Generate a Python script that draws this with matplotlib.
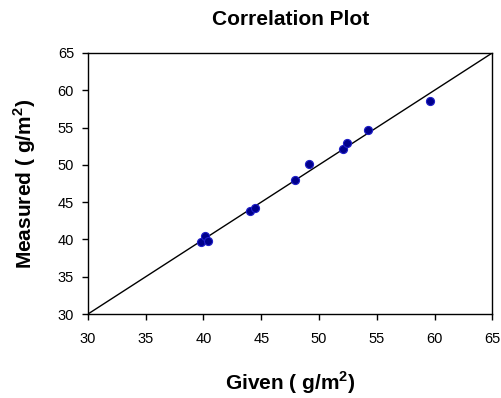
import numpy as np
import matplotlib
matplotlib.use("Agg")
import matplotlib.pyplot as plt

# === Data ===
given = [39.8, 40.1, 40.4, 44.0, 44.5, 47.9, 49.1, 52.1, 52.4, 54.2, 59.6]
measured = [39.6, 40.4, 39.8, 43.8, 44.2, 47.9, 50.1, 52.1, 52.9, 54.7, 58.6]
ticks = [30, 35, 40, 45, 50, 55, 60, 65]

plt.rcParams['font.family'] = ['Liberation Sans', 'DejaVu Sans']
plt.rcParams['mathtext.fontset'] = 'custom'
plt.rcParams['mathtext.rm'] = 'Liberation Sans'
plt.rcParams['mathtext.bf'] = 'Liberation Sans:bold'

fig = plt.figure(figsize=(5.01, 3.98), dpi=100)
ax = fig.add_axes([0.1756, 0.211, 0.807, 0.656])

# 1:1 line
ax.plot([30, 65], [30, 65], color='black', linewidth=1.0, zorder=2)
ax.scatter(given, measured, s=34, color='#00008c', edgecolors='#2020c8',
           linewidths=0.8, zorder=3)

ax.set_xlim(30, 65)
ax.set_ylim(30, 65)
ax.set_xticks(ticks)
ax.set_yticks(ticks)
ax.tick_params(axis='x', direction='out', length=4, width=1, labelsize=10.5, pad=9)
ax.tick_params(axis='y', direction='out', length=4, width=1, labelsize=10.5, pad=6)
for s in ax.spines.values():
    s.set_linewidth(1.0)
    s.set_color('black')

ax.set_title('Correlation Plot', fontsize=15, fontweight='bold', pad=20)
ax.set_xlabel(r'Given ( g/m$^{\mathbf{2}}$)', fontsize=15, fontweight='bold', labelpad=17)
ax.set_ylabel(r'Measured ( g/m$^{\mathbf{2}}$)', fontsize=15, fontweight='bold', labelpad=14)

fig.savefig('out.png', dpi=100)
